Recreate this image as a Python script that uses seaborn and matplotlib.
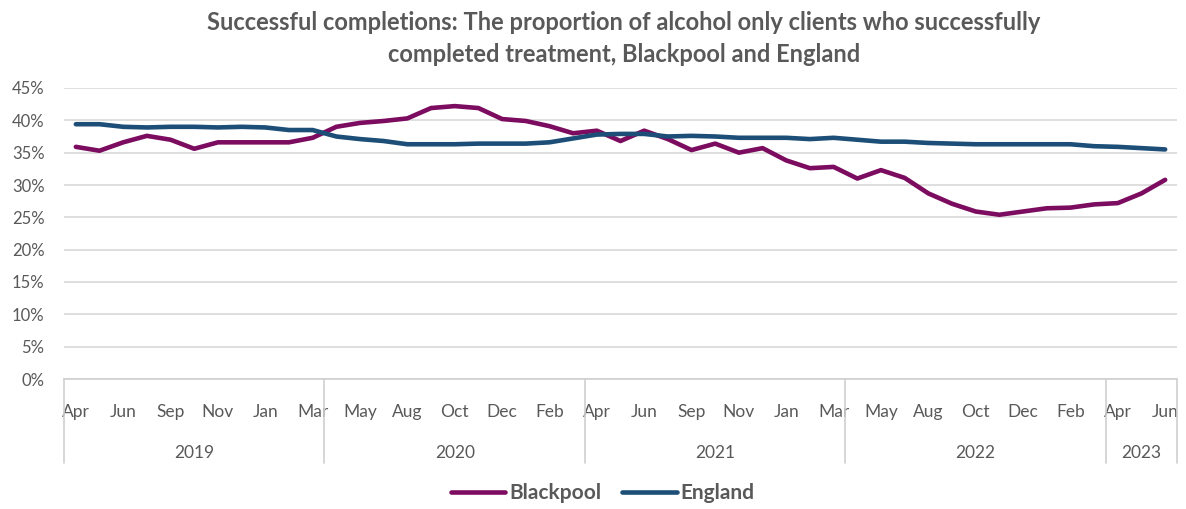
import numpy as np
import pandas as pd
import matplotlib
matplotlib.use("Agg")
import matplotlib.pyplot as plt
from matplotlib.lines import Line2D
import seaborn as sns

# Reporting periods (July is not published in each year)
months = ["Apr", "May", "Jun", "Aug", "Sep", "Oct", "Nov", "Dec", "Jan", "Feb", "Mar",
          "Apr", "May", "Jun", "Aug", "Sep", "Oct", "Nov", "Dec", "Jan", "Feb", "Mar",
          "Apr", "May", "Jun", "Aug", "Sep", "Oct", "Nov", "Dec", "Jan", "Feb", "Mar",
          "Apr", "May", "Jun", "Aug", "Sep", "Oct", "Nov", "Dec", "Jan", "Feb", "Mar",
          "Apr", "May", "Jun"]
years = ["2019", "2020", "2021", "2022", "2023"]
year_lengths = [11, 11, 11, 11, 3]

# Proportion (%) of alcohol-only clients completing treatment successfully
blackpool = [35.9, 35.3, 36.6, 37.6, 37.0, 35.6, 36.6, 36.6, 36.6, 36.6, 37.3,
             39.0, 39.6, 39.9, 40.3, 41.9, 42.2, 41.9, 40.2, 39.9, 39.1, 38.0,
             38.4, 36.8, 38.4, 37.1, 35.4, 36.4, 35.0, 35.7, 33.8, 32.6, 32.8,
             31.0, 32.3, 31.1, 28.7, 27.1, 25.9, 25.4, 25.9, 26.4, 26.5, 27.0,
             27.2, 28.7, 30.8]
england = [39.4, 39.4, 39.0, 38.9, 39.0, 39.0, 38.9, 39.0, 38.9, 38.5, 38.5,
           37.5, 37.1, 36.8, 36.3, 36.3, 36.3, 36.4, 36.4, 36.4, 36.6, 37.2,
           37.8, 37.9, 37.9, 37.5, 37.6, 37.5, 37.3, 37.3, 37.3, 37.1, 37.3,
           37.0, 36.7, 36.7, 36.5, 36.4, 36.3, 36.3, 36.3, 36.3, 36.3, 36.0,
           35.9, 35.7, 35.5]

n = len(months)
idx = np.arange(n)
df = pd.concat([
    pd.DataFrame({"period": idx, "value": blackpool, "area": "Blackpool"}),
    pd.DataFrame({"period": idx, "value": england, "area": "England"}),
])

sns.set_theme(style="white")
plt.rcParams["font.family"] = ["Lato", "DejaVu Sans"]

grey = "#595959"
palette = {"Blackpool": "#7B0C5F", "England": "#1C4E78"}

fig = plt.figure(figsize=(11.86, 5.09), dpi=100)
ax = fig.add_axes([64 / 1186, 1 - 379 / 509, (1177 - 64) / 1186, (379 - 88) / 509])

sns.lineplot(data=df, x="period", y="value", hue="area", palette=palette,
             linewidth=3.3, ax=ax, legend=False, solid_capstyle="round")

ax.set_xlim(-0.5, n - 0.5)
ax.set_ylim(0, 45)
ax.set_yticks(np.arange(0, 46, 5))
ax.set_yticklabels([f"{v}%" for v in range(0, 46, 5)], fontsize=12, color=grey)
ax.yaxis.grid(True, color="#D9D9D9", linewidth=1.2)
ax.set_axisbelow(True)
for s in ["top", "right", "left"]:
    ax.spines[s].set_visible(False)
ax.spines["bottom"].set_color("#D0D0D0")
ax.spines["bottom"].set_linewidth(1.2)
ax.tick_params(axis="y", length=0, pad=14)

ticks = idx[::2]
ax.set_xticks(ticks)
ax.set_xticklabels([months[i] for i in ticks], fontsize=12.5, color=grey)
ax.tick_params(axis="x", length=0, pad=18)
ax.set_xlabel("")
ax.set_ylabel("")

# Year grouping row below the month labels
trans = ax.get_xaxis_transform()
edges = np.concatenate([[0], np.cumsum(year_lengths)]) - 0.5
for e in edges:
    ax.add_line(Line2D([e, e], [0, -0.29], transform=trans, color="#D0D0D0",
                       linewidth=1.2, clip_on=False))
for y, a, b in zip(years, edges[:-1], edges[1:]):
    ax.text((a + b) / 2, -0.255, y, transform=trans, ha="center", va="center",
            fontsize=12.5, color=grey)

fig.text(624 / 1186, 1 - 23 / 509,
         "Successful completions: The proportion of alcohol only clients who successfully",
         ha="center", va="center", fontsize=17, fontweight="bold", color=grey)
fig.text(624 / 1186, 1 - 54 / 509, "completed treatment, Blackpool and England",
         ha="center", va="center", fontsize=17, fontweight="bold", color=grey)

handles = [Line2D([], [], color=palette[k], linewidth=3.3) for k in ["Blackpool", "England"]]
leg = fig.legend(handles, ["Blackpool", "England"], loc="center",
                 bbox_to_anchor=(603 / 1186, 1 - 493 / 509), ncol=2, frameon=False,
                 handlelength=2.6, handletextpad=0.2, columnspacing=1.0,
                 prop={"size": 15, "weight": "bold"})
for t in leg.get_texts():
    t.set_color(grey)

fig.savefig("out.png", dpi=100, facecolor="white")
